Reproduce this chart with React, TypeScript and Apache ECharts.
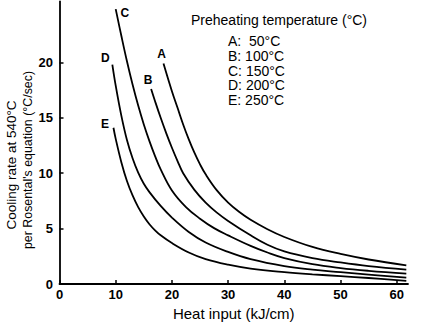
import React, { useEffect, useRef } from "react";
import * as echarts from "echarts";

const curveNames = ["A", "B", "C", "D", "E"];
const preheatTemps = [50, 100, 150, 200, 250];

const curveA = [[18.5,19.9],[20,17.4],[21,15.9],[22,14.4],[23,13.05],[24,11.85],[25,10.8],[26,9.9],[28,8.45],[30,7.35],[32,6.5],[34,5.8],[37,4.95],[40,4.25],[45,3.35],[50,2.72],[55,2.22],[61.7,1.69]];
const curveB = [[16.3,17.6],[17,16.5],[18,15.0],[19,13.6],[20,12.3],[21,11.1],[22,10.0],[24,8.5],[26,7.35],[28,6.45],[30,5.7],[34,4.4],[37,3.55],[40,2.95],[45,2.35],[50,1.95],[55,1.62],[61.7,1.3]];
const curveC = [[10,24.8],[11,22.4],[12,20.1],[13,18.0],[14,16.1],[15,14.4],[16,12.9],[17,11.55],[18,10.35],[20,8.45],[22.5,6.95],[25,5.9],[27.5,5.05],[30,4.4],[34,3.45],[37,2.85],[40,2.35],[45,1.8],[50,1.45],[55,1.2],[61.7,0.94]];
const curveD = [[9.4,19.8],[10,17.9],[11,15.2],[12,13.0],[13,11.35],[14,10.05],[15,9.05],[16,8.3],[18,7.05],[20,6.0],[23,4.7],[26,3.75],[30,2.9],[34,2.25],[40,1.62],[45,1.3],[50,1.08],[55,0.86],[61.7,0.58]];
const curveE = [[9.6,14.1],[10,13.1],[11,11.0],[12,9.3],[13,8.0],[14,6.95],[15,6.1],[16,5.4],[17,4.85],[18,4.4],[20,3.7],[23,2.85],[26,2.25],[30,1.75],[34,1.4],[40,1.08],[45,0.88],[50,0.72],[55,0.55],[61.7,0.3]];

const xTicks = [0, 10, 20, 30, 40, 50, 60];
const yTicks = [0, 5, 10, 15, 20];

const xTitle = "Heat input (kJ/cm)";
const yTitle1 = "Cooling rate at 540°C";
const yTitle2 = "per Rosental's equation (°C/sec)";
const legendTitle = "Preheating temperature (°C)";

const FONT = "'Liberation Sans', Arial, sans-serif";

export default function App() {
  const ref = useRef<HTMLDivElement>(null);
  useEffect(() => {
    if (!ref.current) return;
    const chart = echarts.init(ref.current, null, { renderer: "svg" });
    const curves = [curveA, curveB, curveC, curveD, curveE];
    const labelOffsets = [[-2, -9], [-3, -9], [9, 4], [-7, -7], [-8.5, -3.5]];
    const legendLines = curveNames.map((n, i) =>
      `${n}:${preheatTemps[i] < 100 ? "  " : " "}${preheatTemps[i]}°C`
    );
    chart.setOption({
      animation: false,
      backgroundColor: "#fff",
      textStyle: { fontFamily: FONT, color: "#000" },
      grid: { left: 59.5, right: 14, top: 1.4, bottom: 40.5, containLabel: false },
      xAxis: {
        type: "value",
        min: 0,
        max: 62,
        interval: 10,
        axisLine: { lineStyle: { color: "#000", width: 1.8 } },
        axisTick: { inside: true, length: 4, lineStyle: { color: "#000", width: 1.5 }, customValues: xTicks },
        axisLabel: { customValues: xTicks, color: "#000", fontSize: 13, fontWeight: "bold", margin: 4, fontFamily: FONT },
        splitLine: { show: false },
        name: xTitle,
        nameLocation: "middle",
        nameGap: 18,
        nameTextStyle: { color: "#000", fontSize: 15, fontFamily: FONT, verticalAlign: "top" },
      },
      yAxis: {
        type: "value",
        min: 0,
        max: 25.5,
        interval: 5,
        axisLine: { show: true, lineStyle: { color: "#000", width: 1.8 } },
        axisTick: { show: true, inside: true, length: 4, lineStyle: { color: "#000", width: 1.5 }, customValues: yTicks },
        axisLabel: { customValues: yTicks, color: "#000", fontSize: 13, fontWeight: "bold", margin: 6.5, fontFamily: FONT },
        splitLine: { show: false },
      },
      series: [
        ...curves.map((pts, i) => ({
          type: "line",
          name: curveNames[i],
          data: pts,
          smooth: 0.4,
          showSymbol: false,
          symbol: "none",
          lineStyle: { color: "#000", width: 1.8 },
          silent: true,
        })),
        {
          type: "scatter",
          symbolSize: 0,
          silent: true,
          itemStyle: { color: "#000", opacity: 1 },
          data: curves.map((pts, i) => ({
            value: pts[0],
            label: {
              show: true,
              position: "inside",
              formatter: curveNames[i],
              offset: labelOffsets[i],
              color: "#000",
              opacity: 1,
              fontSize: 12,
              fontWeight: "bold",
              fontFamily: FONT,
            },
          })),
        },
      ],
      graphic: [
        {
          type: "text",
          x: 11.5,
          y: 165,
          rotation: Math.PI / 2,
          style: { text: yTitle1, fontSize: 13.5, fontFamily: FONT, fill: "#000", align: "center", verticalAlign: "middle" },
        },
        {
          type: "text",
          x: 27.5,
          y: 160,
          rotation: Math.PI / 2,
          style: { text: yTitle2, fontSize: 12.4, fontFamily: FONT, fill: "#000", align: "center", verticalAlign: "middle" },
        },
        {
          type: "text",
          x: 191,
          y: 20,
          style: { text: legendTitle, fontSize: 14, fontFamily: FONT, fill: "#000", align: "left", verticalAlign: "middle" },
        },
        ...legendLines.map((t, i) => ({
          type: "text",
          x: 228,
          y: 41 + i * 14.8,
          style: { text: t, fontSize: 14, fontFamily: FONT, fill: "#000", align: "left", verticalAlign: "middle" },
        })),
      ],
    });
    return () => chart.dispose();
  }, []);
  return <div ref={ref} style={{ width: 422, height: 326, position: "absolute", left: 0, top: 0 }} />;
}
